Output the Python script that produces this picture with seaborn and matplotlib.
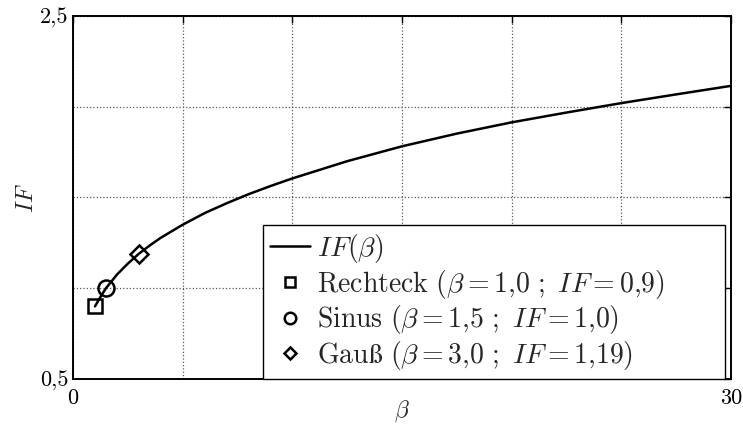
import matplotlib
matplotlib.use("Agg")
import matplotlib.pyplot as plt
import seaborn as sns
import pandas as pd

# IF(beta) curve
beta_curve = [1.0, 1.25, 1.5, 2.0, 2.5, 3.0, 3.5, 4.0, 5.0, 6.0, 7.0, 8.0,
              9.0, 10.0, 12.5, 15.0, 17.5, 20.0, 22.5, 25.0, 27.5, 30.0]
if_curve = [0.90, 0.952, 1.00, 1.075, 1.136, 1.19, 1.236, 1.278, 1.350,
            1.414, 1.468, 1.518, 1.563, 1.605, 1.700, 1.782, 1.852, 1.914,
            1.968, 2.020, 2.068, 2.115]

# pulse shapes
shape_names = ["Rechteck", "Sinus", "Gauß"]
shape_beta = [1.0, 1.5, 3.0]
shape_if = [0.9, 1.0, 1.19]
shape_beta_txt = ["1{,}0", "1{,}5", "3{,}0"]
shape_if_txt = ["0{,}9", "1{,}0", "1{,}19"]
shape_markers = ["s", "o", "D"]

x_ticks = [0, 5, 10, 15, 20, 25, 30]
x_ticklabels = ["0", "", "", "", "", "", "30"]
y_ticks = [0.5, 1.0, 1.5, 2.0, 2.5]
y_ticklabels = ["0,5", "", "", "", "2,5"]

sns.set_theme(style="white")
plt.rcParams["font.family"] = ["cmr10", "DejaVu Serif"]
plt.rcParams["mathtext.fontset"] = "cm"
plt.rcParams["axes.unicode_minus"] = False

fig = plt.figure(figsize=(7.43, 4.25), dpi=100)
ax = fig.add_axes([0.0983, 0.1082, 0.8855, 0.8542])

curve = pd.DataFrame({"beta": beta_curve, "IF": if_curve})
sns.lineplot(data=curve, x="beta", y="IF", ax=ax, color="black",
             linewidth=1.8, label=r"$IF(\beta)$", zorder=3)

for name, b, v, bt, vt, m in zip(shape_names, shape_beta, shape_if,
                                  shape_beta_txt, shape_if_txt, shape_markers):
    ms = {"s": 10, "o": 11.5, "D": 9}[m]
    ax.plot([b], [v], linestyle="none", marker=m, markersize=ms,
            markerfacecolor="none", markeredgecolor="black",
            markeredgewidth=1.8, zorder=4,
            label=r"$\mathrm{" + name + r"}\ (\beta = " + bt
                  + r"\ ;\ IF = " + vt + r")$")

ax.set_xlim(0, 30)
ax.set_ylim(0.5, 2.5)
ax.set_xticks(x_ticks)
ax.set_xticklabels(x_ticklabels)
ax.set_yticks(y_ticks)
ax.set_yticklabels(y_ticklabels)

ax.grid(True, color="0.35", linestyle=":", linewidth=0.9)
ax.tick_params(direction="in", length=5, width=1.0, colors="black",
               labelsize=16, top=True, right=True)
ax.tick_params(axis="x", pad=7)
ax.tick_params(axis="y", pad=3)
for s in ax.spines.values():
    s.set_visible(True)
    s.set_color("black")
    s.set_linewidth(1.4)

ax.set_xlabel(r"$\beta$", fontsize=17, labelpad=-7)
ax.set_ylabel(r"$IF$", fontsize=17, labelpad=2)

# legend box stretched to a fixed width in the lower right corner
leg = ax.legend(loc="lower left", bbox_to_anchor=(0.289, 0.0, 0.702, 0.5),
                mode="expand", fontsize=20, frameon=True, fancybox=False,
                edgecolor="black", framealpha=1, borderaxespad=0.0,
                handlelength=1.45, handletextpad=0.25, labelspacing=0.1,
                borderpad=0.25, markerscale=0.72, numpoints=1)
leg.get_frame().set_linewidth(1.0)

fig.savefig("out.png", dpi=100)
